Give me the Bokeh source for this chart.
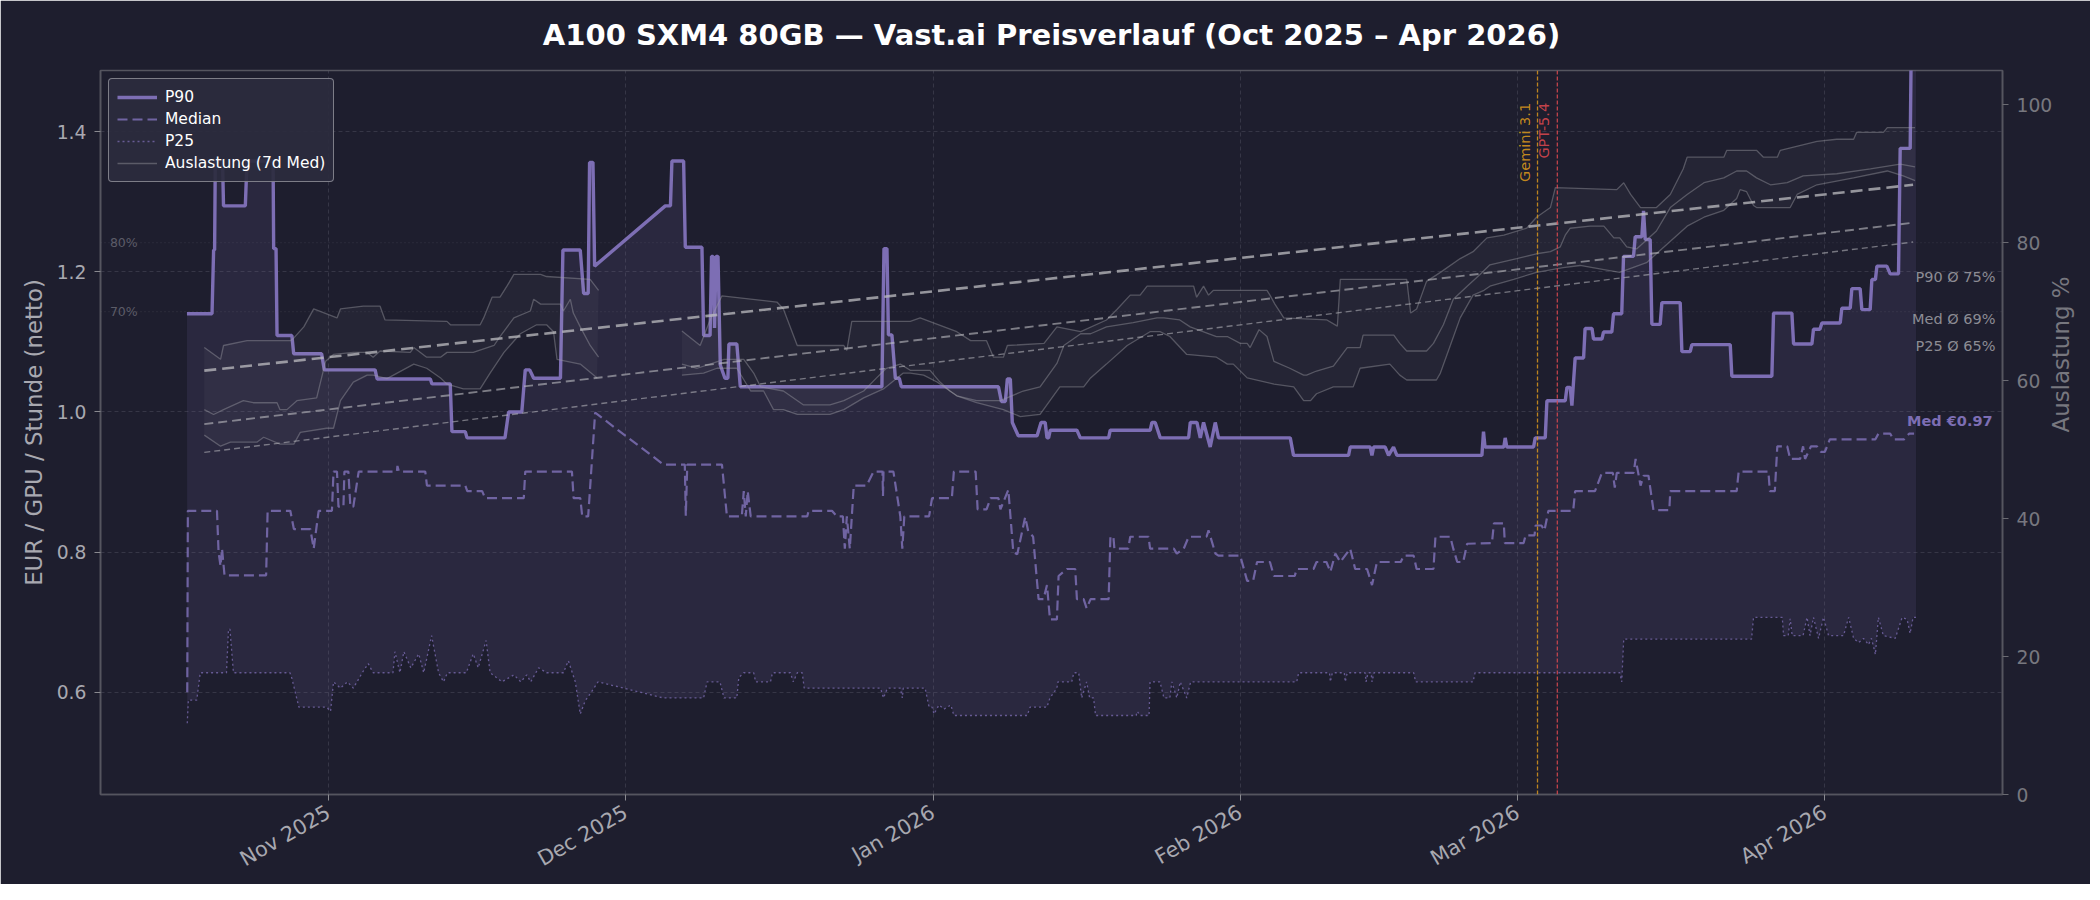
import math
import numpy as np
import pandas as pd
from bokeh.plotting import figure
from bokeh.models import (Range1d, LinearAxis, FixedTicker, DatetimeTickFormatter,
                          NumeralTickFormatter, Label, Span, Legend, LegendItem)
from bokeh.embed import file_html
from bokeh.resources import INLINE

NAN = float("nan")

# ---------------------------------------------------------------- data
# time axis: days since START (fractional days)
START = "2025-10-01"

TITLE = "A100 SXM4 80GB \u2014 Vast.ai Preisverlauf (Oct 2025 \u2013 Apr 2026)"
MONTH_TICKS = ["2025-11-01", "2025-12-01", "2026-01-01", "2026-02-01", "2026-03-01", "2026-04-01"]
EUR_TICKS = [0.6, 0.8, 1.0, 1.2, 1.4]
UTIL_TICKS = [0, 20, 40, 60, 80, 100]
UTIL_REF_LINES = [80, 70]

EVENT_NAMES = ["Gemini 3.1", "GPT-5.4"]
EVENT_DATES = ["2026-03-03", "2026-03-05"]

# P90 price (EUR / GPU / h)
P90_DAY = [16.71, 19.24, 19.40, 19.50, 19.57, 20.30, 20.40, 22.60, 22.77, 25.40,
           25.46, 25.70, 25.80, 27.30, 27.48, 30.30, 30.57, 35.70, 35.90, 41.27,
           41.43, 43.28, 43.45, 44.80, 44.97, 48.80, 49.17, 50.50, 50.85, 51.30,
           51.70, 54.40, 54.65, 56.40, 56.74, 57.20, 57.34, 57.68, 57.85, 64.98,
           65.50, 65.65, 66.83, 67.00, 68.68, 68.85, 69.50, 69.65, 69.80, 69.95,
           70.10, 70.30, 70.53, 71.00, 71.30, 71.40, 72.20, 72.55, 86.84, 87.05,
           87.35, 87.50, 87.85, 88.20, 88.60, 88.80, 98.60, 98.90, 99.30, 99.50,
           99.80, 100.00, 100.60, 102.50, 102.90, 103.32, 103.50, 103.66, 103.83, 106.52,
           106.86, 109.72, 109.88, 113.92, 114.09, 114.42, 114.93, 117.79, 117.96, 118.63,
           118.97, 119.30, 119.97, 120.48, 120.81, 128.05, 128.38, 133.93, 134.10, 136.12,
           136.29, 136.46, 137.63, 137.97, 138.47, 138.81, 147.39, 147.55, 147.70, 149.60,
           149.74, 149.90, 152.60, 152.77, 153.78, 153.95, 155.80, 155.97, 156.30, 156.47,
           156.80, 157.65, 157.80, 158.50, 158.65, 159.50, 159.66, 160.50, 160.67, 161.50,
           161.68, 162.69, 162.86, 163.53, 163.70, 163.87, 164.37, 164.54, 165.38, 165.55,
           167.40, 167.57, 168.41, 168.58, 172.45, 172.61, 176.65, 176.82, 178.67, 178.84,
           180.69, 180.85, 181.50, 181.70, 183.55, 183.71, 184.56, 184.72, 185.56, 185.73,
           186.57, 186.74, 187.10, 187.25, 188.25, 188.59, 189.43, 189.60, 190.61, 190.78,
           191.20]
P90_EUR = [1.140, 1.140, 1.231, 1.231, 1.358, 1.358, 1.294, 1.294, 1.358, 1.358,
           1.233, 1.233, 1.109, 1.109, 1.083, 1.083, 1.060, 1.060, 1.047, 1.047,
           1.040, 1.040, 0.972, 0.972, 0.963, 0.963, 1.000, 1.000, 1.060, 1.060,
           1.048, 1.048, 1.231, 1.231, 1.169, 1.169, 1.356, 1.356, 1.208, 1.294,
           1.294, 1.358, 1.358, 1.235, 1.235, 1.109, 1.109, 1.222, 1.222, 1.120,
           1.222, 1.222, 1.067, 1.048, 1.048, 1.097, 1.097, 1.036, 1.036, 1.233,
           1.233, 1.110, 1.110, 1.048, 1.048, 1.036, 1.036, 1.015, 1.015, 1.047,
           1.047, 0.985, 0.966, 0.966, 0.985, 0.985, 0.963, 0.963, 0.974, 0.974,
           0.963, 0.963, 0.974, 0.974, 0.985, 0.985, 0.963, 0.963, 0.985, 0.985,
           0.963, 0.985, 0.950, 0.985, 0.963, 0.963, 0.938, 0.938, 0.950, 0.950,
           0.938, 0.950, 0.950, 0.938, 0.950, 0.938, 0.938, 0.972, 0.950, 0.950,
           0.963, 0.950, 0.950, 0.963, 0.963, 1.016, 1.016, 1.035, 1.035, 1.009,
           1.077, 1.077, 1.119, 1.119, 1.104, 1.104, 1.114, 1.114, 1.140, 1.140,
           1.222, 1.222, 1.250, 1.250, 1.287, 1.246, 1.246, 1.125, 1.125, 1.156,
           1.156, 1.086, 1.086, 1.096, 1.096, 1.051, 1.051, 1.141, 1.141, 1.097,
           1.097, 1.118, 1.118, 1.127, 1.127, 1.148, 1.148, 1.176, 1.176, 1.146,
           1.146, 1.189, 1.189, 1.208, 1.208, 1.197, 1.197, 1.376, 1.376, 1.620,
           1.620]

# Median price
MED_DAY = [16.74, 16.80, 19.74, 19.90, 20.10, 20.25, 20.50, 24.70, 24.85, 27.14,
           27.50, 29.16, 29.50, 30.00, 31.34, 31.50, 31.85, 32.00, 32.50, 32.60,
           33.00, 33.20, 33.50, 34.04, 37.90, 37.95, 38.10, 40.76, 40.93, 44.80,
           45.00, 46.50, 46.80, 50.70, 50.85, 55.56, 55.73, 56.40, 56.60, 57.20,
           57.90, 64.80, 66.95, 67.05, 67.20, 70.70, 71.20, 72.70, 72.90, 73.10,
           73.30, 73.60, 79.30, 79.45, 81.80, 82.30, 82.90, 83.10, 83.30, 83.60,
           84.00, 85.30, 86.00, 86.90, 86.95, 87.00, 88.00, 88.70, 88.90, 89.10,
           91.60, 91.90, 93.90, 94.10, 96.30, 96.50, 97.40, 97.80, 98.60, 98.80,
           99.60, 100.10, 100.50, 101.30, 101.60, 102.10, 102.65, 103.15, 103.50, 103.80,
           104.50, 104.67, 105.50, 106.35, 106.52, 107.20, 107.50, 107.90, 109.72, 109.90,
           110.20, 110.30, 111.70, 111.90, 113.75, 113.90, 116.30, 116.60, 117.30, 117.80,
           119.60, 119.80, 120.50, 120.80, 123.00, 123.70, 124.30, 124.70, 126.00, 126.40,
           128.50, 128.70, 130.40, 130.70, 131.70, 132.10, 132.60, 133.10, 134.10, 134.60,
           135.80, 136.30, 136.80, 139.20, 139.50, 140.50, 140.80, 142.50, 142.70, 144.20,
           144.50, 144.90, 145.50, 145.90, 148.40, 148.60, 149.60, 149.70, 151.60, 151.80,
           152.70, 152.80, 153.40, 153.70, 154.10, 156.60, 156.80, 158.80, 159.50, 160.60,
           160.80, 161.00, 162.70, 162.90, 163.40, 163.70, 164.20, 164.70, 166.30, 166.40,
           173.10, 173.30, 176.30, 176.45, 176.95, 177.20, 178.20, 178.50, 179.50, 179.80,
           180.00, 180.60, 181.20, 181.60, 182.00, 182.50, 187.10, 187.40, 188.60, 188.90,
           190.00, 190.50, 191.00]
MED_EUR = [0.600, 0.859, 0.859, 0.800, 0.780, 0.805, 0.767, 0.767, 0.859, 0.859,
           0.833, 0.833, 0.805, 0.859, 0.859, 0.915, 0.915, 0.865, 0.865, 0.915,
           0.915, 0.865, 0.865, 0.915, 0.915, 0.923, 0.915, 0.915, 0.895, 0.895,
           0.887, 0.887, 0.877, 0.877, 0.915, 0.915, 0.877, 0.877, 0.851, 0.851,
           0.999, 0.925, 0.925, 0.852, 0.925, 0.925, 0.851, 0.851, 0.887, 0.851,
           0.887, 0.851, 0.851, 0.859, 0.859, 0.851, 0.851, 0.805, 0.851, 0.805,
           0.895, 0.895, 0.915, 0.915, 0.880, 0.915, 0.915, 0.851, 0.805, 0.851,
           0.851, 0.877, 0.877, 0.915, 0.915, 0.861, 0.861, 0.877, 0.877, 0.861,
           0.889, 0.800, 0.797, 0.850, 0.830, 0.822, 0.733, 0.733, 0.753, 0.704,
           0.704, 0.766, 0.776, 0.776, 0.733, 0.733, 0.720, 0.733, 0.733, 0.822,
           0.822, 0.805, 0.805, 0.822, 0.822, 0.805, 0.805, 0.798, 0.805, 0.822,
           0.822, 0.831, 0.798, 0.795, 0.795, 0.759, 0.759, 0.786, 0.786, 0.766,
           0.766, 0.776, 0.776, 0.786, 0.786, 0.772, 0.798, 0.786, 0.805, 0.776,
           0.776, 0.753, 0.786, 0.786, 0.795, 0.795, 0.776, 0.776, 0.822, 0.822,
           0.805, 0.786, 0.786, 0.812, 0.813, 0.841, 0.841, 0.813, 0.813, 0.824,
           0.824, 0.838, 0.838, 0.831, 0.859, 0.859, 0.887, 0.887, 0.913, 0.913,
           0.892, 0.913, 0.913, 0.933, 0.895, 0.909, 0.909, 0.860, 0.860, 0.887,
           0.887, 0.915, 0.915, 0.887, 0.887, 0.951, 0.951, 0.933, 0.933, 0.951,
           0.933, 0.951, 0.951, 0.943, 0.943, 0.961, 0.961, 0.969, 0.969, 0.961,
           0.961, 0.969, 0.969]

# P25 price
P25_DAY = [16.74, 16.85, 17.70, 18.05, 20.70, 20.90, 21.05, 21.40, 27.10, 27.30,
           28.00, 30.80, 31.20, 31.50, 32.20, 32.90, 33.50, 34.40, 35.00, 35.50,
           37.50, 37.70, 38.20, 38.60, 39.30, 40.10, 40.60, 41.40, 42.10, 42.60,
           43.00, 44.90, 45.60, 46.10, 46.90, 47.30, 48.50, 49.70, 50.40, 51.00,
           51.40, 52.20, 53.00, 54.70, 55.20, 55.90, 56.40, 56.90, 57.50, 58.20,
           64.80, 68.85, 69.20, 70.50, 70.90, 72.20, 72.40, 72.90, 73.90, 74.10,
           75.60, 75.80, 77.60, 77.90, 78.30, 78.80, 79.00, 86.70, 87.00, 87.40,
           88.70, 88.90, 89.00, 91.20, 91.60, 91.90, 92.10, 92.60, 93.10, 93.80,
           94.10, 101.50, 101.80, 103.50, 103.80, 104.50, 104.60, 106.00, 106.20, 106.70,
           107.00, 107.50, 107.80, 108.20, 108.40, 112.50, 112.60, 112.90, 113.80, 113.90,
           114.90, 115.30, 115.90, 116.10, 116.60, 116.95, 117.60, 118.00, 128.70, 128.90,
           132.00, 132.10, 132.30, 133.50, 133.60, 133.80, 135.60, 135.70, 135.90, 136.20,
           136.30, 136.50, 140.50, 140.70, 146.50, 146.70, 161.30, 161.50, 161.70, 174.60,
           174.80, 177.70, 177.83, 178.30, 178.50, 178.70, 179.80, 180.20, 180.50, 180.85,
           181.36, 181.86, 182.37, 183.88, 184.40, 184.90, 185.40, 185.90, 186.40, 186.70,
           187.10, 187.40, 187.90, 189.10, 189.80, 190.30, 190.60, 190.90, 191.20]
P25_EUR = [0.556, 0.589, 0.589, 0.628, 0.628, 0.690, 0.690, 0.628, 0.628, 0.620,
           0.579, 0.579, 0.573, 0.615, 0.606, 0.615, 0.606, 0.628, 0.641, 0.628,
           0.628, 0.658, 0.628, 0.658, 0.635, 0.655, 0.628, 0.681, 0.628, 0.615,
           0.628, 0.628, 0.655, 0.635, 0.674, 0.628, 0.615, 0.625, 0.615, 0.625,
           0.615, 0.635, 0.628, 0.628, 0.645, 0.615, 0.569, 0.588, 0.600, 0.615,
           0.592, 0.592, 0.615, 0.615, 0.592, 0.592, 0.621, 0.628, 0.628, 0.615,
           0.615, 0.628, 0.628, 0.615, 0.628, 0.628, 0.606, 0.606, 0.592, 0.606,
           0.606, 0.592, 0.606, 0.606, 0.579, 0.579, 0.569, 0.582, 0.576, 0.582,
           0.567, 0.567, 0.579, 0.579, 0.592, 0.606, 0.615, 0.615, 0.628, 0.628,
           0.592, 0.615, 0.592, 0.592, 0.567, 0.567, 0.573, 0.567, 0.567, 0.615,
           0.615, 0.592, 0.592, 0.615, 0.592, 0.615, 0.592, 0.615, 0.615, 0.628,
           0.628, 0.615, 0.628, 0.628, 0.615, 0.628, 0.628, 0.615, 0.628, 0.628,
           0.615, 0.628, 0.628, 0.615, 0.615, 0.628, 0.628, 0.615, 0.676, 0.676,
           0.707, 0.707, 0.681, 0.681, 0.705, 0.681, 0.681, 0.707, 0.681, 0.707,
           0.677, 0.707, 0.681, 0.681, 0.707, 0.677, 0.671, 0.677, 0.668, 0.677,
           0.654, 0.707, 0.681, 0.677, 0.707, 0.704, 0.684, 0.707, 0.707]

# Utilisation (7-day rolling median, %), NaN = no data
UTIL_P90_DAY = [18.46, 20.10, 20.40, 22.77, 27.14, 27.50, 28.50, 29.50, 31.85, 32.20,
                34.50, 36.20, 36.70, 42.95, 43.30, 46.30, 46.65, 47.50, 48.30, 49.00,
                49.70, 52.40, 53.00, 57.40, 58.25, NAN, 66.66, 68.50, 69.50, 70.70,
                76.25, 76.90, 78.30, 83.00, 83.30, 83.80, 89.70, 90.70, 94.40, 95.80,
                97.40, 98.10, 99.10, 99.50, 103.20, 104.50, 106.90, 109.50, 110.60, 111.90,
                112.90, 113.60, 118.30, 118.60, 119.30, 119.80, 120.30, 125.70, 126.00, 126.50,
                127.40, 131.75, 132.80, 133.10, 139.80, 140.20, 140.80, 141.80, 143.20, 145.20,
                146.50, 147.90, 149.60, 151.90, 152.90, 154.30, 154.80, 161.00, 161.70, 162.40,
                163.40, 165.00, 166.40, 167.70, 168.10, 171.80, 172.10, 175.10, 175.80, 177.20,
                177.50, 181.20, 183.20, 184.90, 185.20, 187.90, 188.30, 191.10]
UTIL_P90 = [64.8, 63.1, 65.1, 65.8, 65.8, 66.2, 67.8, 70.4, 69.1, 70.4,
            70.8, 70.8, 68.8, 68.6, 68.1, 68.1, 69.1, 72.1, 72.1, 73.7,
            75.4, 75.4, 75.1, 74.7, 73.1, NAN, 67.2, 65.1, 68.8, 72.3,
            71.4, 70.4, 65.1, 65.1, 64.4, 68.6, 68.6, 69.1, 67.1, 65.8,
            65.8, 63.4, 63.4, 65.1, 65.4, 67.8, 67.1, 68.8, 70.4, 72.4,
            72.4, 73.7, 73.7, 72.1, 73.7, 72.4, 73.1, 73.1, 72.4, 71.1,
            69.1, 68.8, 67.9, 74.7, 74.7, 69.8, 70.4, 74.4, 75.7, 77.7,
            78.7, 80.7, 81.1, 82.1, 83.7, 85.1, 88.0, 87.7, 88.7, 87.0,
            85.1, 85.1, 87.0, 90.7, 92.4, 92.4, 93.4, 93.4, 92.4, 92.4,
            93.4, 94.7, 95.0, 95.0, 96.0, 96.0, 96.7, 96.7]

UTIL_MED_DAY = [18.46, 19.40, 20.40, 22.40, 23.40, 25.80, 26.10, 26.80, 27.80, 29.80,
                30.70, 31.50, 33.50, 34.90, 35.50, 36.20, 39.25, 39.60, 40.90, 42.30,
                42.95, 45.60, 47.70, 48.30, 49.70, 51.36, 51.70, 52.40, 54.40, 54.70,
                55.40, 55.70, 56.40, 57.40, 58.25, NAN, 66.66, 68.20, 69.50, 70.90,
                72.90, 73.90, 74.60, 76.90, 78.90, 81.60, 83.00, 85.00, 86.30, 87.30,
                88.70, 89.70, 91.70, 92.70, 93.70, 94.40, 96.40, 98.80, 101.10, 102.80,
                104.50, 105.20, 106.90, 107.90, 109.50, 112.20, 114.60, 115.30, 116.90, 117.95,
                120.60, 121.70, 123.00, 123.70, 124.00, 124.90, 125.70, 126.40, 128.00, 129.40,
                129.70, 130.70, 132.40, 133.80, 135.10, 135.40, 138.50, 139.10, 139.80, 141.80,
                142.50, 143.50, 144.50, 145.90, 147.20, 148.20, 150.90, 152.90, 154.30, 155.30,
                155.80, 156.30, 158.30, 159.70, 160.70, 161.30, 162.00, 163.00, 165.00, 166.40,
                168.10, 169.80, 171.80, 173.10, 174.10, 175.10, 176.50, 178.20, 179.80, 183.20,
                186.60, 189.60, 191.10]
UTIL_MED = [55.8, 55.1, 55.8, 57.1, 56.8, 56.8, 55.8, 55.8, 57.1, 57.5,
            62.8, 63.8, 64.1, 64.1, 63.4, 64.3, 64.1, 64.8, 63.4, 63.4,
            64.1, 64.1, 65.1, 66.4, 69.1, 70.1, 71.8, 71.1, 71.1, 70.1,
            71.8, 69.8, 67.8, 65.1, 63.4, NAN, 62.4, 61.8, 62.4, 63.1,
            63.1, 61.1, 59.1, 58.5, 56.5, 56.5, 57.1, 58.5, 60.4, 61.8,
            62.4, 61.5, 61.5, 59.8, 58.5, 57.8, 57.1, 57.1, 58.5, 59.1,
            62.5, 65.1, 66.8, 66.8, 67.8, 68.4, 69.1, 69.1, 68.8, 67.8,
            66.4, 66.4, 65.4, 65.4, 64.8, 67.4, 66.4, 62.8, 61.8, 60.8,
            60.8, 61.4, 62.1, 64.8, 64.8, 66.6, 66.6, 65.4, 64.3, 64.3,
            65.4, 68.1, 71.8, 73.7, 75.4, 76.8, 77.7, 78.4, 78.7, 79.4,
            81.1, 82.1, 82.4, 82.4, 80.7, 80.7, 79.4, 79.1, 81.7, 85.1,
            87.0, 88.7, 89.4, 90.4, 90.4, 89.4, 88.4, 88.7, 89.7, 90.0,
            90.7, 91.4, 91.0]

UTIL_P25_DAY = [18.46, 20.10, 21.10, 23.80, 24.45, 26.10, 27.50, 28.15, 30.80, 31.50,
                32.20, 33.50, 34.90, 35.50, 36.90, 39.60, 40.90, 42.30, 42.95, 44.60,
                46.30, 47.30, 48.70, 50.35, 52.00, 53.00, 53.70, 54.05, 56.40, 58.10,
                NAN, 66.66, 68.85, 70.20, 72.20, 73.60, 74.90, 75.90, 76.90, 78.30,
                81.60, 83.00, 85.00, 87.00, 89.00, 89.70, 91.05, 92.40, 94.40, 96.40,
                99.10, 100.80, 102.80, 103.80, 104.80, 107.20, 107.90, 109.50, 111.60, 113.90,
                114.90, 115.90, 117.60, 120.60, 121.70, 122.30, 123.70, 126.40, 128.40, 129.40,
                130.10, 130.70, 132.40, 134.40, 135.10, 138.10, 139.10, 139.80, 142.80, 143.20,
                144.20, 145.20, 146.50, 147.60, 148.20, 150.60, 152.90, 155.60, 157.30, 159.70,
                161.30, 164.00, 165.00, 168.10, 169.80, 171.80, 173.10, 173.45, 174.10, 174.80,
                175.10, 178.50, 179.20, 181.20, 184.90, 188.30, 189.90, 191.10]
UTIL_P25 = [52.1, 50.5, 51.1, 51.1, 51.8, 50.8, 50.8, 52.5, 53.1, 53.1,
            57.1, 59.8, 60.8, 60.8, 60.3, 62.4, 61.8, 60.4, 59.5, 58.8,
            58.8, 61.1, 64.1, 66.8, 68.1, 68.1, 67.1, 63.1, 62.4, 60.4,
            NAN, 60.8, 61.1, 61.8, 61.8, 58.5, 58.5, 55.8, 55.8, 55.1,
            55.1, 55.8, 57.5, 58.8, 61.1, 61.1, 60.8, 59.8, 57.8, 56.8,
            55.8, 54.8, 55.1, 57.1, 59.1, 59.1, 60.4, 62.4, 65.1, 67.1,
            67.1, 66.4, 63.8, 63.4, 62.4, 62.4, 60.4, 59.5, 59.1, 57.1,
            57.1, 58.1, 59.1, 59.1, 61.8, 62.4, 60.8, 60.1, 60.1, 61.1,
            65.1, 69.1, 72.4, 73.1, 73.7, 74.7, 75.7, 76.4, 76.7, 76.1,
            75.7, 77.1, 78.4, 82.4, 83.7, 84.7, 86.4, 87.7, 87.4, 85.4,
            85.1, 85.1, 87.0, 88.4, 89.4, 90.4, 89.7, 89.0]

# linear utilisation trends (start / end)
TREND_DAY = [18.46, 190.90]
TREND_P90 = [61.45, 88.40]
TREND_MED = [53.70, 82.90]
TREND_P25 = [49.60, 80.10]

MEAN_NAMES = ["P90", "Med", "P25"]
MEAN_UTIL = [75, 69, 65]

# ---------------------------------------------------------------- helpers
BASE_MS = pd.Timestamp(START).value / 1e6
DAY_MS = 86400000.0


def ms(days):
    return [BASE_MS + d * DAY_MS if d == d else NAN for d in days]


def ms1(d):
    return BASE_MS + d * DAY_MS


def split_nan(days, vals):
    segs, cd, cv = [], [], []
    for d, v in zip(days, vals):
        if d != d:
            segs.append((cd, cv))
            cd, cv = [], []
        else:
            cd.append(d)
            cv.append(v)
    segs.append((cd, cv))
    return segs


BG = "#1e1e2e"
PURPLE = "#7d6eb4"
GRID = "#7a7a86"
SPINE = "#55555f"
FONT = "DejaVu Sans"
FRAME_W, FRAME_H = 1902, 724

all_days = [d for d in P90_DAY + MED_DAY + P25_DAY if d == d]
d_lo, d_hi = min(all_days), max(all_days)
pad = 0.05 * (d_hi - d_lo)

p = figure(x_axis_type="datetime", frame_width=FRAME_W, frame_height=FRAME_H,
           output_backend="svg", toolbar_location=None,
           x_range=Range1d(ms1(d_lo - pad), ms1(d_hi + pad)),
           y_range=Range1d(0.4543, 1.4871),
           min_border_left=100, min_border_right=82, min_border_top=70, min_border_bottom=90,
           background_fill_color=BG, border_fill_color=BG)
p.extra_y_ranges = {"util": Range1d(0, 104.97)}

p.outline_line_color = SPINE
p.outline_line_width = 1.6

# title
p.title.text = TITLE
p.title.align = "center"
p.title.vertical_align = "top"
p.title.text_font = FONT
p.title.text_font_size = "29px"
p.title.text_font_style = "bold"
p.title.text_color = "#ffffff"
p.title.standoff = 33

# grids
for g in (p.xgrid, p.ygrid):
    g.grid_line_color = GRID
    g.grid_line_alpha = 0.35
    g.grid_line_dash = "4 3"
    g.grid_line_width = 0.8

# x axis
xa = p.xaxis[0]
xa.ticker = FixedTicker(ticks=[pd.Timestamp(t).value / 1e6 for t in MONTH_TICKS])
fmt = "%b %Y"
xa.formatter = DatetimeTickFormatter(months=fmt, days=fmt, years=fmt, hours=fmt,
                                     minutes=fmt, seconds=fmt, milliseconds=fmt,
                                     microseconds=fmt, hourmin=fmt, minsec=fmt)
xa.major_label_orientation = math.pi / 6
xa.major_label_text_font = FONT
xa.major_label_text_font_size = "20.8px"
xa.major_label_text_color = "#a8a8b0"
xa.major_label_standoff = 10
xa.axis_line_color = SPINE
xa.axis_line_width = 1.6
xa.major_tick_line_color = "#8a8a90"
xa.major_tick_out = 6
xa.major_tick_in = 0
xa.minor_tick_line_color = None

# left axis
ya = p.yaxis[0]
ya.ticker = FixedTicker(ticks=EUR_TICKS)
ya.formatter = NumeralTickFormatter(format="0.0")
ya.axis_label = "EUR / GPU / Stunde (netto)"
ya.axis_label_text_font = FONT
ya.axis_label_text_font_size = "22.9px"
ya.axis_label_text_font_style = "normal"
ya.axis_label_text_color = "#a8a8b0"
ya.axis_label_standoff = 7
ya.major_label_text_font = FONT
ya.major_label_text_font_size = "18.75px"
ya.major_label_text_color = "#a8a8b0"
ya.major_label_standoff = 8
ya.axis_line_color = SPINE
ya.axis_line_width = 1.6
ya.major_tick_line_color = "#8a8a90"
ya.major_tick_out = 6
ya.major_tick_in = 0
ya.minor_tick_line_color = None

# right axis
ya2 = LinearAxis(y_range_name="util", ticker=FixedTicker(ticks=UTIL_TICKS))
ya2.axis_label = "Auslastung %"
ya2.axis_label_orientation = math.pi / 2
ya2.axis_label_text_font = FONT
ya2.axis_label_text_font_size = "22.9px"
ya2.axis_label_text_font_style = "normal"
ya2.axis_label_text_color = "#77777f"
ya2.axis_label_standoff = 6
ya2.major_label_text_font = FONT
ya2.major_label_text_font_size = "18.75px"
ya2.major_label_text_color = "#77777f"
ya2.major_label_standoff = 8
ya2.axis_line_color = SPINE
ya2.axis_line_width = 1.6
ya2.major_tick_line_color = "#6a6a72"
ya2.major_tick_out = 6
ya2.major_tick_in = 0
ya2.minor_tick_line_color = None
p.add_layout(ya2, "right")

# ---------------------------------------------------------------- price layer
p.patch(ms(P90_DAY + P25_DAY[::-1]), P90_EUR + P25_EUR[::-1],
        fill_color=PURPLE, fill_alpha=0.13, line_color=None)
r_p25 = p.line(ms(P25_DAY), P25_EUR, line_color=PURPLE, line_width=1.3,
               line_alpha=0.75, line_dash="2 3")
r_med = p.line(ms(MED_DAY), MED_EUR, line_color=PURPLE, line_width=2.2,
               line_alpha=0.85, line_dash="10 5")
r_p90 = p.line(ms(P90_DAY), P90_EUR, line_color=PURPLE, line_width=3.4)

# ---------------------------------------------------------------- utilisation layer
top_segs = split_nan(UTIL_P90_DAY, UTIL_P90)
bot_segs = split_nan(UTIL_P25_DAY, UTIL_P25)
for (td, tv), (bd, bv) in zip(top_segs, bot_segs):
    p.patch(ms(td + bd[::-1]), tv + bv[::-1], y_range_name="util",
            fill_color="#ffffff", fill_alpha=0.035, line_color=None)

r_util = None
for dd, vv in ((UTIL_P90_DAY, UTIL_P90), (UTIL_MED_DAY, UTIL_MED), (UTIL_P25_DAY, UTIL_P25)):
    r = p.line(ms(dd), vv, y_range_name="util", line_color="#a0a0a8",
               line_alpha=0.42, line_width=1.3)
    if r_util is None:
        r_util = r

for vals, w, a, dash in ((TREND_P90, 2.6, 0.75, "12 6"),
                         (TREND_MED, 1.9, 0.6, "9 5"),
                         (TREND_P25, 1.4, 0.55, "6 4")):
    p.line(ms(TREND_DAY), vals, y_range_name="util", line_color="#bdbdc2",
           line_alpha=a, line_width=w, line_dash=dash)

# reference lines 80 % / 70 %
for lvl in UTIL_REF_LINES:
    p.add_layout(Span(location=lvl, dimension="width", y_range_name="util",
                      line_color="#80808a", line_alpha=0.35, line_width=0.8,
                      line_dash="1 3"))
    p.add_layout(Label(x=ms1(d_lo - pad) + 0.95 * DAY_MS, y=lvl, y_range_name="util",
                       text=f"{lvl}%", text_font=FONT, text_font_size="12.5px",
                       text_color="#5c5c68", text_align="left", text_baseline="middle"))

# mean labels on the right
for name, val in zip(MEAN_NAMES, MEAN_UTIL):
    p.add_layout(Label(x=ms1(d_hi + pad) - 0.7 * DAY_MS, y=val, y_range_name="util",
                       text=f"{name} \u00d8 {val}%", text_font=FONT,
                       text_font_size="14.5px", text_color="#8c8c94",
                       text_align="right", text_baseline="middle"))

# last median label
last_med = MED_EUR[-1]
p.add_layout(Label(x=ms1(d_hi + pad) - 1.0 * DAY_MS, y=last_med + 0.018,
                   text=f"Med \u20ac{last_med:.2f}", text_font=FONT,
                   text_font_size="14.5px", text_font_style="bold",
                   text_color=PURPLE, text_align="right", text_baseline="middle"))

# events
EVENT_COLORS = ["#d9961c", "#d9484f"]
for name, date, col in zip(EVENT_NAMES, EVENT_DATES, EVENT_COLORS):
    t = pd.Timestamp(date).value / 1e6
    p.add_layout(Span(location=t, dimension="height", line_color=col,
                      line_alpha=0.85, line_width=1.3, line_dash="4 2"))
    p.add_layout(Label(x=t, y=1.441, text=name, angle=math.pi / 2, text_font=FONT,
                       text_font_size="14.5px", text_color=col, text_alpha=0.9,
                       text_align="right", text_baseline="bottom", x_offset=-5))

# legend
legend = Legend(items=[LegendItem(label="P90", renderers=[r_p90]),
                       LegendItem(label="Median", renderers=[r_med]),
                       LegendItem(label="P25", renderers=[r_p25]),
                       LegendItem(label="Auslastung (7d Med)", renderers=[r_util])],
                location="top_left")
legend.background_fill_color = "#2b2b3e"
legend.background_fill_alpha = 0.92
legend.border_line_color = "#d0d0d4"
legend.border_line_width = 1.5
legend.border_radius = 4
legend.label_text_color = "#ffffff"
legend.label_text_font = FONT
legend.label_text_font_size = "15.5px"
legend.glyph_width = 40
legend.glyph_height = 20
legend.label_height = 20
legend.spacing = 2
legend.padding = 8
legend.margin = 8
legend.label_standoff = 8
p.add_layout(legend)

open("out.html", "w").write(file_html(p, INLINE))
